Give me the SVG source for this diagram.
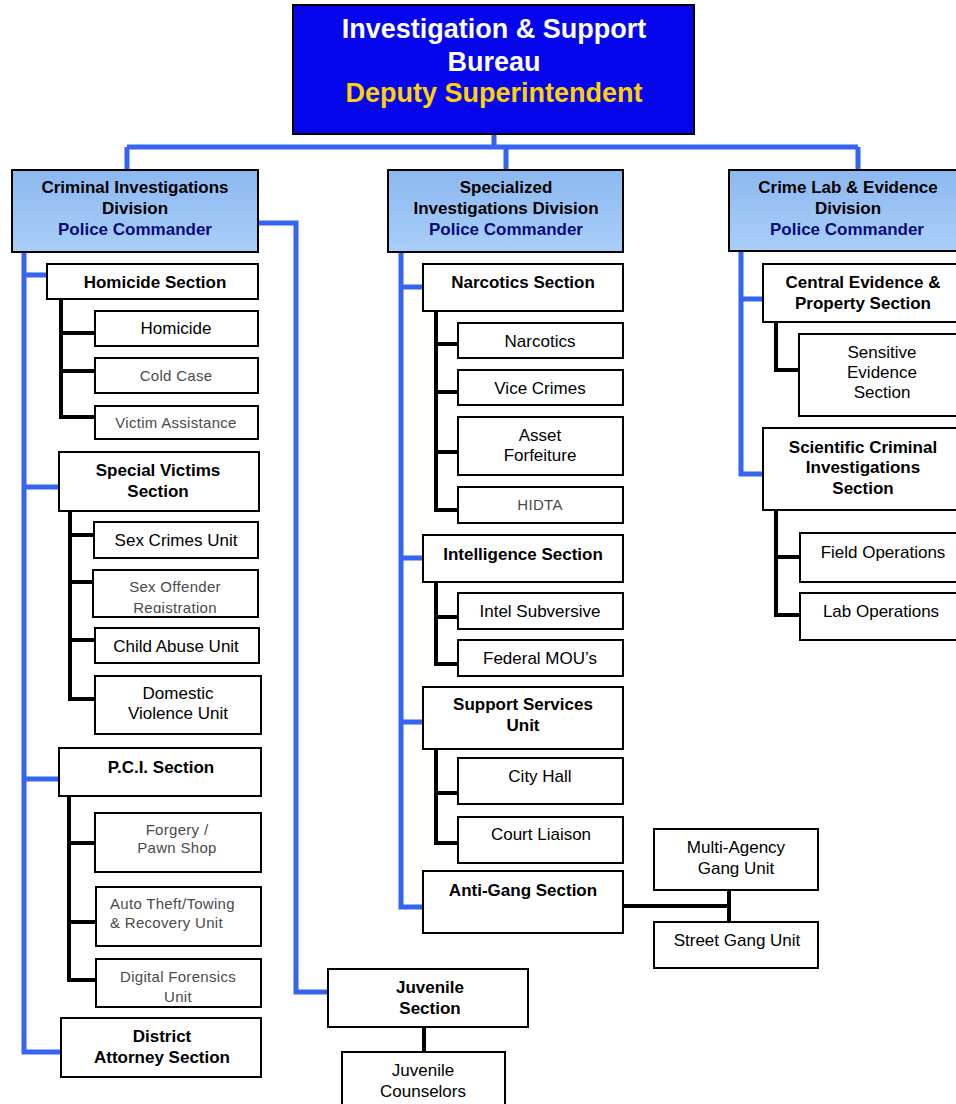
<svg xmlns="http://www.w3.org/2000/svg" width="956" height="1104" viewBox="0 0 956 1104">
<defs>
<linearGradient id="dg" x1="0" y1="0" x2="0" y2="1">
<stop offset="0" stop-color="#8cb8f0"/>
<stop offset="1" stop-color="#a9cff8"/>
</linearGradient>
<clipPath id="c1"><rect x="94" y="571" width="163" height="42"/></clipPath>
<clipPath id="c2"><rect x="97" y="960" width="163" height="43"/></clipPath>
</defs>
<style>
.box{fill:#fff;stroke:#000;stroke-width:2}
.dv{fill:url(#dg);stroke:#000;stroke-width:2}
.top{fill:#0505ee;stroke:#000;stroke-width:2}
text{font-family:"Liberation Sans",Arial,sans-serif;text-anchor:middle}
.t1{font-size:27px;font-weight:bold;fill:#fff}
.t2{font-size:27px;font-weight:bold;fill:#ffd200}
.b{font-size:17px;font-weight:bold;fill:#000}
.pc{font-size:17px;font-weight:bold;fill:#0a0a78}
.r{font-size:17px;fill:#000}
.g{font-size:15px;fill:#4a4a4a;letter-spacing:0.3px}
.bl{stroke:#3563f2;stroke-width:5;fill:none}
.k{stroke:#000;stroke-width:4;fill:none}
</style>
<rect width="956" height="1104" fill="#fff"/>

<g id="connectors">
<path class="bl" d="M494 134V147M127 147H858M127 147V170M506 147V170M858 147V170"/>
<path class="bl" d="M24 252V1052H61M24 275H47M24 487H59M24 779H59"/>
<path class="bl" d="M258 223H296V992H328"/>
<path class="bl" d="M401 252V907H423M401 287H423M401 558H423M401 722H423"/>
<path class="bl" d="M741 251V474H763M741 299H763"/>
<path class="k" d="M61 299V417H95M61 333H95M61 371H95"/>
<path class="k" d="M70 511V699H95M70 535H94M70 582H93M70 640H95"/>
<path class="k" d="M69 796V980H96M69 843H95M69 922H96"/>
<path class="k" d="M436 311V510H458M436 344H458M436 392H458M436 452H458"/>
<path class="k" d="M436 582V664H458M436 617H458"/>
<path class="k" d="M436 749V843H458M436 793H458"/>
<path class="k" d="M623 906H729M729 890V922"/>
<path class="k" d="M424 1027V1052"/>
<path class="k" d="M776 322V370H800"/>
<path class="k" d="M776 510V615H800M776 557H800"/>
</g>

<g id="bureau">
<rect class="top" x="293" y="5" width="401" height="129"/>
<text class="t1" x="494" y="38">Investigation &amp; Support</text>
<text class="t1" x="494" y="71">Bureau</text>
<text class="t2" x="494" y="102">Deputy Superintendent</text>
</g>

<g id="cid">
<rect class="dv" x="12" y="170" width="246" height="82"/>
<text class="b" x="135" y="193">Criminal Investigations</text>
<text class="b" x="135" y="214">Division</text>
<text class="pc" x="135" y="235">Police Commander</text>
</g>
<g id="sid">
<rect class="dv" x="388" y="170" width="235" height="82"/>
<text class="b" x="506" y="193">Specialized</text>
<text class="b" x="506" y="214">Investigations Division</text>
<text class="pc" x="506" y="235">Police Commander</text>
</g>
<g id="cle">
<rect class="dv" x="729" y="170" width="240" height="81"/>
<text class="b" x="848" y="193">Crime Lab &amp; Evidence</text>
<text class="b" x="848" y="214">Division</text>
<text class="pc" x="847" y="235">Police Commander</text>
</g>

<g id="homicide-section">
<rect class="box" x="47" y="264" width="211" height="35"/>
<text class="b" x="155" y="288">Homicide Section</text>
</g>
<g id="homicide">
<rect class="box" x="95" y="311" width="163" height="35"/>
<text class="r" x="176" y="334">Homicide</text>
</g>
<g id="cold-case">
<rect class="box" x="95" y="358" width="163" height="35"/>
<text class="g" x="176" y="381">Cold Case</text>
</g>
<g id="victim-assistance">
<rect class="box" x="95" y="406" width="163" height="33"/>
<text class="g" x="176" y="428">Victim Assistance</text>
</g>
<g id="special-victims">
<rect class="box" x="59" y="452" width="200" height="59"/>
<text class="b" x="158" y="476">Special Victims</text>
<text class="b" x="158" y="497">Section</text>
</g>
<g id="sex-crimes">
<rect class="box" x="94" y="522" width="164" height="36"/>
<text class="r" x="176" y="546">Sex Crimes Unit</text>
</g>
<g id="sex-offender">
<rect class="box" x="93" y="570" width="165" height="47"/>
<g clip-path="url(#c1)">
<text class="g" x="175" y="592">Sex Offender</text>
<text class="g" x="175" y="613">Registration</text>
</g>
</g>
<g id="child-abuse">
<rect class="box" x="95" y="628" width="164" height="35"/>
<text class="r" x="176" y="652">Child Abuse Unit</text>
</g>
<g id="domestic-violence">
<rect class="box" x="95" y="676" width="166" height="58"/>
<text class="r" x="178" y="699">Domestic</text>
<text class="r" x="178" y="719">Violence Unit</text>
</g>
<g id="pci">
<rect class="box" x="59" y="748" width="202" height="48"/>
<text class="b" x="161" y="773">P.C.I. Section</text>
</g>
<g id="forgery">
<rect class="box" x="95" y="813" width="166" height="59"/>
<text class="g" x="177" y="835">Forgery /</text>
<text class="g" x="177" y="853">Pawn Shop</text>
</g>
<g id="auto-theft">
<rect class="box" x="96" y="887" width="165" height="59"/>
<text class="g" x="110" y="909" style="text-anchor:start">Auto Theft/Towing</text>
<text class="g" x="110" y="928" style="text-anchor:start">&amp; Recovery Unit</text>
</g>
<g id="digital-forensics">
<rect class="box" x="96" y="959" width="165" height="48"/>
<g clip-path="url(#c2)">
<text class="g" x="178" y="982">Digital Forensics</text>
<text class="g" x="178" y="1002">Unit</text>
</g>
</g>
<g id="district-attorney">
<rect class="box" x="61" y="1018" width="200" height="59"/>
<text class="b" x="162" y="1042">District</text>
<text class="b" x="162" y="1063">Attorney Section</text>
</g>
<g id="juvenile-section">
<rect class="box" x="328" y="969" width="200" height="58"/>
<text class="b" x="430" y="993">Juvenile</text>
<text class="b" x="430" y="1014">Section</text>
</g>
<g id="juvenile-counselors">
<rect class="box" x="342" y="1052" width="163" height="60"/>
<text class="r" x="423" y="1076">Juvenile</text>
<text class="r" x="423" y="1097">Counselors</text>
</g>

<g id="narcotics-section">
<rect class="box" x="423" y="264" width="200" height="47"/>
<text class="b" x="523" y="288">Narcotics Section</text>
</g>
<g id="narcotics">
<rect class="box" x="458" y="323" width="165" height="35"/>
<text class="r" x="540" y="347">Narcotics</text>
</g>
<g id="vice-crimes">
<rect class="box" x="458" y="370" width="165" height="35"/>
<text class="r" x="540" y="394">Vice Crimes</text>
</g>
<g id="asset-forfeiture">
<rect class="box" x="458" y="417" width="165" height="58"/>
<text class="r" x="540" y="441">Asset</text>
<text class="r" x="540" y="461">Forfeiture</text>
</g>
<g id="hidta">
<rect class="box" x="458" y="487" width="165" height="36"/>
<text class="g" x="540" y="510">HIDTA</text>
</g>
<g id="intelligence-section">
<rect class="box" x="423" y="535" width="200" height="47"/>
<text class="b" x="523" y="560">Intelligence Section</text>
</g>
<g id="intel-subversive">
<rect class="box" x="458" y="593" width="165" height="36"/>
<text class="r" x="540" y="617">Intel Subversive</text>
</g>
<g id="federal-mou">
<rect class="box" x="458" y="640" width="165" height="36"/>
<text class="r" x="540" y="664">Federal MOU’s</text>
</g>
<g id="support-services">
<rect class="box" x="423" y="687" width="200" height="62"/>
<text class="b" x="523" y="710">Support Services</text>
<text class="b" x="523" y="731">Unit</text>
</g>
<g id="city-hall">
<rect class="box" x="458" y="758" width="165" height="46"/>
<text class="r" x="540" y="782">City Hall</text>
</g>
<g id="court-liaison">
<rect class="box" x="458" y="817" width="165" height="46"/>
<text class="r" x="541" y="840">Court Liaison</text>
</g>
<g id="anti-gang">
<rect class="box" x="423" y="871" width="200" height="62"/>
<text class="b" x="523" y="896">Anti-Gang Section</text>
</g>
<g id="multi-agency">
<rect class="box" x="654" y="829" width="164" height="61"/>
<text class="r" x="736" y="853">Multi-Agency</text>
<text class="r" x="736" y="874">Gang Unit</text>
</g>
<g id="street-gang">
<rect class="box" x="654" y="922" width="164" height="46"/>
<text class="r" x="737" y="946">Street Gang Unit</text>
</g>

<g id="central-evidence">
<rect class="box" x="763" y="264" width="200" height="58"/>
<text class="b" x="863" y="288">Central Evidence &amp;</text>
<text class="b" x="863" y="309">Property Section</text>
</g>
<g id="sensitive-evidence">
<rect class="box" x="799" y="334" width="165" height="82"/>
<text class="r" x="882" y="358">Sensitive</text>
<text class="r" x="882" y="378">Evidence</text>
<text class="r" x="882" y="398">Section</text>
</g>
<g id="scientific">
<rect class="box" x="763" y="428" width="200" height="82"/>
<text class="b" x="863" y="453">Scientific Criminal</text>
<text class="b" x="863" y="473">Investigations</text>
<text class="b" x="863" y="494">Section</text>
</g>
<g id="field-operations">
<rect class="box" x="800" y="533" width="165" height="49"/>
<text class="r" x="883" y="558">Field Operations</text>
</g>
<g id="lab-operations">
<rect class="box" x="800" y="593" width="165" height="47"/>
<text class="r" x="881" y="617">Lab Operations</text>
</g>
</svg>
